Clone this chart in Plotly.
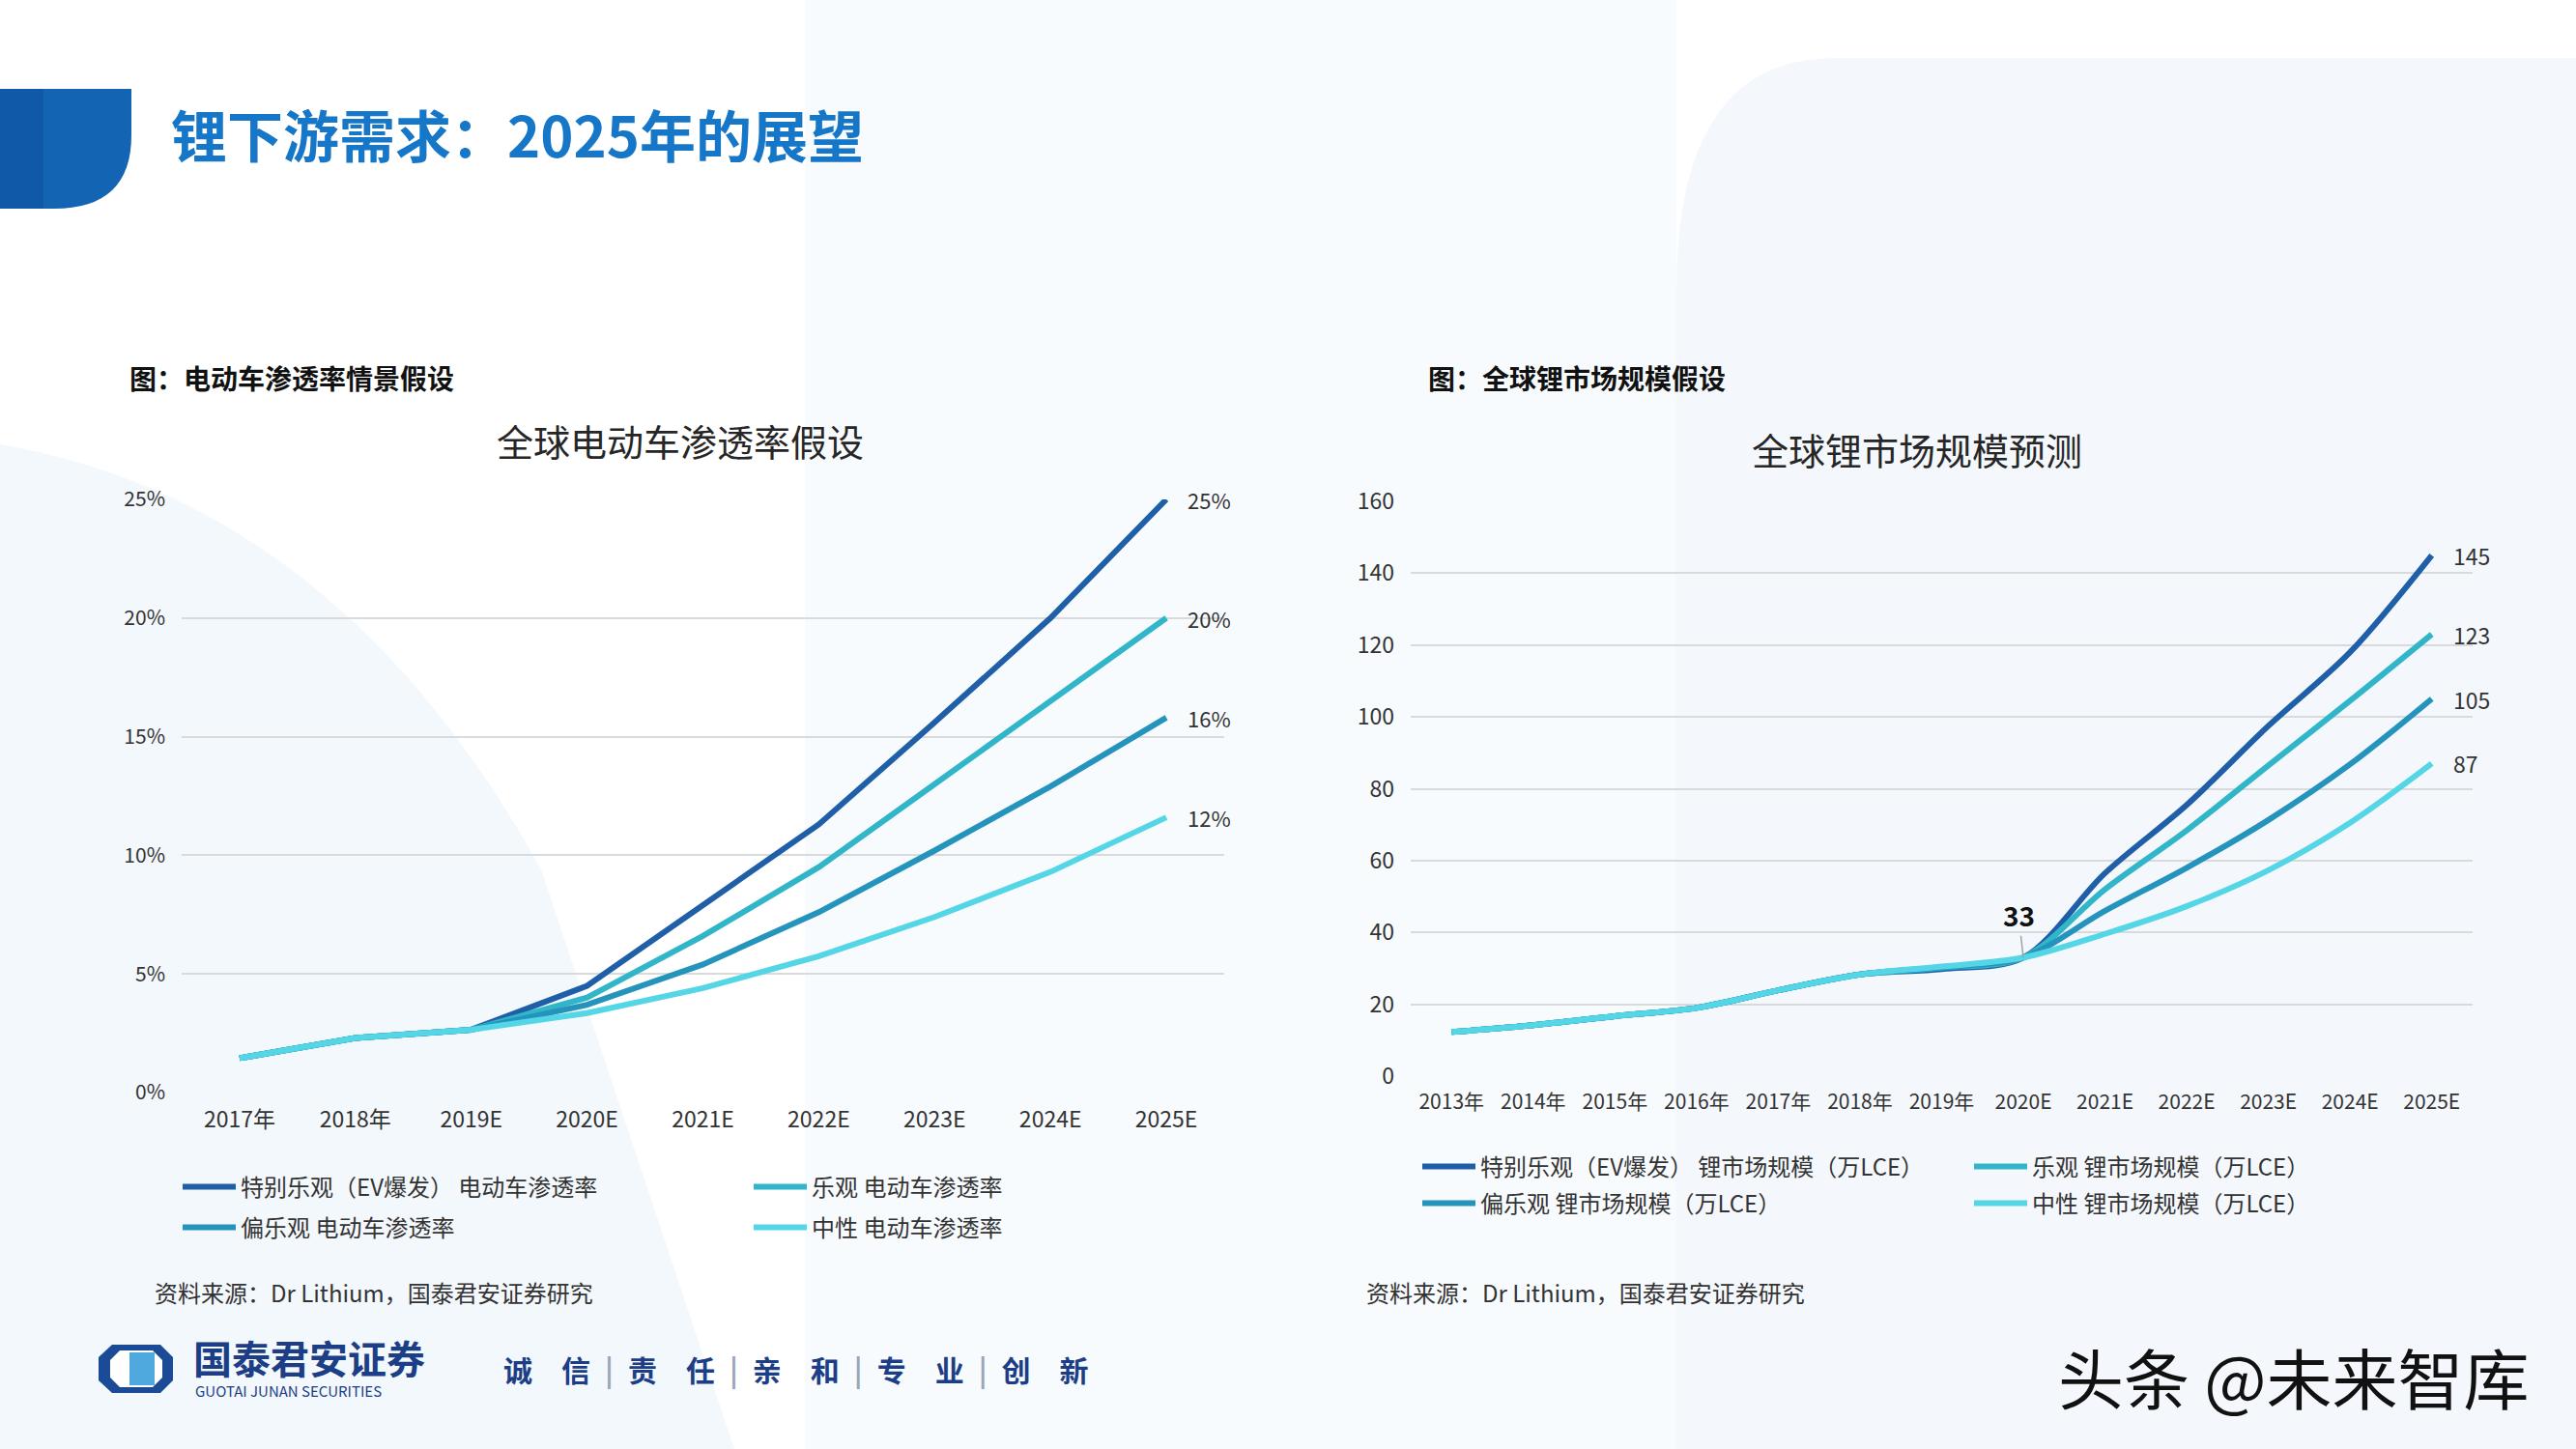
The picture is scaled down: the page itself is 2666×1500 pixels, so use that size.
import plotly.graph_objects as go

W, H = 2666, 1500
FONT = "Noto Sans CJK SC"

# ---- 左图：全球电动车渗透率假设（%） ----
ev_years = ["2017年", "2018年", "2019E", "2020E", "2021E", "2022E", "2023E", "2024E", "2025E"]
ev_names = ["特别乐观（EV爆发） 电动车渗透率", "乐观 电动车渗透率",
            "偏乐观 电动车渗透率", "中性 电动车渗透率"]
ev_boom = [1.45, 2.3, 2.65, 4.5, 7.9, 11.3, 15.6, 20.0, 25.0]
ev_opt = [1.45, 2.3, 2.65, 4.0, 6.6, 9.5, 13.0, 16.5, 20.0]
ev_semi = [1.45, 2.3, 2.65, 3.7, 5.4, 7.6, 10.2, 12.9, 15.8]
ev_neut = [1.45, 2.3, 2.65, 3.35, 4.4, 5.75, 7.4, 9.3, 11.6]
ev_end_labels = ["25%", "20%", "16%", "12%"]

# ---- 右图：全球锂市场规模预测（万LCE） ----
li_years = ["2013年", "2014年", "2015年", "2016年", "2017年", "2018年", "2019年",
            "2020E", "2021E", "2022E", "2023E", "2024E", "2025E"]
li_names = ["特别乐观（EV爆发） 锂市场规模（万LCE）", "乐观 锂市场规模（万LCE）",
            "偏乐观 锂市场规模（万LCE）", "中性 锂市场规模（万LCE）"]
li_boom = [12.3, 14.2, 16.7, 19.0, 23.9, 28.3, 29.8, 33, 56.5, 75.5, 97.5, 118, 145]
li_opt = [12.3, 14.2, 16.7, 19.0, 23.9, 28.3, 30.2, 33, 52, 68.4, 86.5, 104.5, 123]
li_semi = [12.3, 14.2, 16.7, 19.0, 23.9, 28.3, 30.3, 33, 46, 58, 71.3, 86.8, 105]
li_neut = [12.3, 14.2, 16.7, 19.0, 23.9, 28.3, 30.5, 33, 39.6, 47.3, 57.3, 70.5, 87]
li_end_labels = ["145", "123", "105", "87"]

colors = ["#1F5FA8", "#30B6C8", "#2494BC", "#55D6E6"]


def px(x):
    return x / W


def py(y):
    return 1 - y / H


def pt(x, y):
    return f"{px(x):.5f},{py(y):.5f}"


fig = go.Figure()

ev_series = [ev_boom, ev_opt, ev_semi, ev_neut]
li_series = [li_boom, li_opt, li_semi, li_neut]
ev_legends = ["legend", "legend", "legend2", "legend2"]
li_legends = ["legend3", "legend3", "legend4", "legend4"]

for name, vals, col, lg in zip(ev_names, ev_series, colors, ev_legends):
    fig.add_trace(go.Scatter(
        x=ev_years, y=vals, name=name, mode="lines",
        line=dict(color=col, width=6),
        xaxis="x", yaxis="y", legend=lg
    ))

for name, vals, col, lg in zip(li_names, li_series, colors, li_legends):
    fig.add_trace(go.Scatter(
        x=li_years, y=vals, name=name, mode="lines",
        line=dict(color=col, width=6, shape="spline", smoothing=0.9),
        xaxis="x2", yaxis="y2", legend=lg
    ))

annotations = []

# 末端数据标签
for vals, lab in zip(ev_series, ev_end_labels):
    annotations.append(dict(
        x=ev_years[-1], y=vals[-1], xref="x", yref="y", text=lab,
        showarrow=False, xanchor="left", yanchor="middle", xshift=20,
        font=dict(family=FONT, size=22, color="#333333")
    ))
for vals, lab in zip(li_series, li_end_labels):
    annotations.append(dict(
        x=li_years[-1], y=vals[-1], xref="x2", yref="y2", text=lab,
        showarrow=False, xanchor="left", yanchor="middle", xshift=20,
        font=dict(family=FONT, size=23, color="#333333")
    ))

# 2020E 的 33
annotations.append(dict(
    x=li_years[7], y=li_boom[7], xref="x2", yref="y2", text="<b>33</b>",
    showarrow=True, arrowhead=0, arrowwidth=1.5, arrowcolor="#A0A0A0",
    ax=-5, ay=-44, standoff=0,
    font=dict(family=FONT, size=28, color="#111111")
))

# 页面标题和各种文字
texts = [
    ("锂下游需求：2025年的展望", 175, 138, 58, "#1677C8", True, "left"),
    ("图：电动车渗透率情景假设", 132, 391, 28, "#111111", True, "left"),
    ("图：全球锂市场规模假设", 1476, 391, 28, "#111111", True, "left"),
    ("全球电动车渗透率假设", 704, 455, 38, "#262626", False, "center"),
    ("全球锂市场规模预测", 1984, 464, 38, "#262626", False, "center"),
    ("资料来源：Dr Lithium，国泰君安证券研究", 158, 1337, 24, "#333333", False, "left"),
    ("资料来源：Dr Lithium，国泰君安证券研究", 1412, 1337, 24, "#333333", False, "left"),
    ("国泰君安证券", 198, 1405, 40, "#1C3E87", True, "left"),
    ("GUOTAI JUNAN SECURITIES", 200, 1439, 15, "#1C3E87", False, "left"),
    ("头条 @未来智库", 2620, 1424, 68, "#111111", False, "right"),
]
for txt, x, y, size, col, bold, anchor in texts:
    annotations.append(dict(
        x=px(x), y=py(y), xref="paper", yref="paper",
        text=f"<b>{txt}</b>" if bold else txt,
        showarrow=False, xanchor=anchor, yanchor="middle",
        font=dict(family=FONT, size=size, color=col)
    ))

sep = "\u2002<span style='color:#9AA6BA'>|</span>\u2002"
slogan = sep.join(["诚\u3000信", "责\u3000任", "亲\u3000和", "专\u3000业", "创\u3000新"])
annotations.append(dict(
    x=px(519), y=py(1417), xref="paper", yref="paper", text=f"<b>{slogan}</b>",
    showarrow=False, xanchor="left", yanchor="middle",
    font=dict(family=FONT, size=30, color="#1C3E87")
))

# 背景装饰和页眉色块
shapes = [
    dict(type="rect", xref="paper", yref="paper", x0=px(833), x1=px(1735), y0=0, y1=1,
         fillcolor="#F8FBFE", line_width=0, layer="below"),
    dict(type="path", xref="paper", yref="paper",
         path=f"M{pt(1735, 1500)} L{pt(1735, 300)} Q{pt(1735, 60)} {pt(1900, 60)} "
              f"L{pt(2666, 60)} L{pt(2666, 1500)} Z",
         fillcolor="#F4F8FD", line_width=0, layer="below"),
    dict(type="path", xref="paper", yref="paper",
         path=f"M{pt(0, 460)} Q{pt(350, 520)} {pt(560, 900)} L{pt(760, 1500)} L{pt(0, 1500)} Z",
         fillcolor="#F3F8FC", line_width=0, layer="below"),
    dict(type="path", xref="paper", yref="paper",
         path=f"M{pt(0, 92)} L{pt(136, 92)} L{pt(136, 140)} Q{pt(136, 216)} {pt(56, 216)} "
              f"L{pt(0, 216)} Z",
         fillcolor="#1464B4", line_width=0),
    dict(type="rect", xref="paper", yref="paper", x0=0, x1=px(45), y0=py(216), y1=py(92),
         fillcolor="#0D4E9E", opacity=0.55, line_width=0),
    # 徽标
    dict(type="path", xref="paper", yref="paper",
         path=f"M{pt(116, 1392)} L{pt(166, 1392)} L{pt(179, 1405)} L{pt(179, 1429)} "
              f"L{pt(166, 1442)} L{pt(116, 1442)} L{pt(102, 1429)} L{pt(102, 1405)} Z",
         fillcolor="#1B4A97", line_width=0),
    dict(type="path", xref="paper", yref="paper",
         path=f"M{pt(124, 1398)} L{pt(158, 1398)} L{pt(168, 1408)} L{pt(168, 1426)} "
              f"L{pt(158, 1436)} L{pt(124, 1436)} L{pt(114, 1426)} L{pt(114, 1408)} Z",
         fillcolor="#FFFFFF", line_width=0),
    dict(type="rect", xref="paper", yref="paper", x0=px(134), x1=px(160),
         y0=py(1434), y1=py(1400), fillcolor="#4FA8DE", line_width=0),
]

legend_common = dict(
    orientation="h", bgcolor="rgba(0,0,0,0)", itemwidth=55,
    xanchor="left", yanchor="middle", entrywidthmode="pixels",
    font=dict(family=FONT, size=24, color="#333333"), itemclick=False
)

axis_y = dict(showgrid=True, gridcolor="#D9DADC", gridwidth=2, zeroline=False,
              showline=False, ticks="", ticklabelstandoff=16, automargin=False)
axis_x = dict(type="category", showgrid=False, zeroline=False, showline=False,
              ticks="", ticklabelstandoff=12, automargin=False)

fig.update_layout(
    width=W, height=H,
    margin=dict(l=0, r=0, t=0, b=0, autoexpand=False),
    paper_bgcolor="#FFFFFF",
    plot_bgcolor="rgba(0,0,0,0)",
    font=dict(family=FONT, color="#333333"),
    showlegend=True,
    xaxis=dict(axis_x, domain=[px(188), px(1267)], anchor="y",
               range=[-0.5, len(ev_years) - 0.5],
               tickfont=dict(family=FONT, size=23, color="#333333")),
    yaxis=dict(axis_y, domain=[py(1131), py(517)], anchor="x", range=[0, 25], dtick=5,
               ticksuffix="%", tickfont=dict(family=FONT, size=21, color="#333333")),
    xaxis2=dict(axis_x, domain=[px(1460), px(2559)], anchor="y2",
                range=[-0.5, len(li_years) - 0.5],
                tickfont=dict(family=FONT, size=21, color="#333333")),
    yaxis2=dict(axis_y, domain=[py(1114), py(519)], anchor="x2", range=[0, 160], dtick=20,
                tickfont=dict(family=FONT, size=23, color="#333333")),
    legend=dict(legend_common, x=px(184), y=py(1229), entrywidth=521),
    legend2=dict(legend_common, x=px(184), y=py(1271), entrywidth=521),
    legend3=dict(legend_common, x=px(1467), y=py(1208), entrywidth=501),
    legend4=dict(legend_common, x=px(1467), y=py(1246), entrywidth=501),
    annotations=annotations,
    shapes=shapes,
)

# 去掉页面默认边距和工具栏
fig.write_html("out.html", config={"displayModeBar": False},
               post_script="document.body.style.margin = '0';")
